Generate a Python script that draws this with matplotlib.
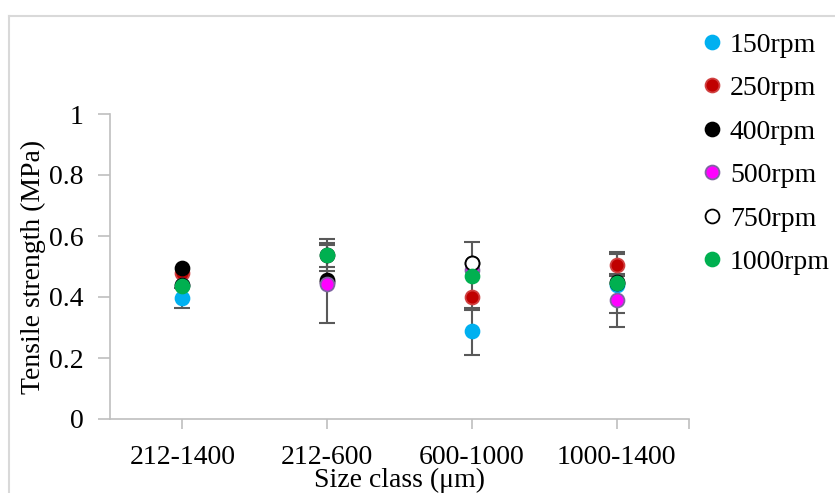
import numpy as np
import matplotlib
matplotlib.use("Agg")
import matplotlib.pyplot as plt
from matplotlib.lines import Line2D

# categories and series
size_classes = ["212-1400", "212-600", "600-1000", "1000-1400"]
speeds = ["150rpm", "250rpm", "400rpm", "500rpm", "750rpm", "1000rpm"]

ts_150 = [0.397, 0.450, 0.287, 0.440]
ts_250 = [0.480, 0.450, 0.400, 0.505]
ts_400 = [0.495, 0.456, 0.510, 0.445]
ts_500 = [0.440, 0.443, 0.490, 0.390]
ts_750 = [0.440, 0.537, 0.511, 0.450]
ts_1000 = [0.436, 0.538, 0.469, 0.446]

# error bars (0 = none shown)
err_150 = [0.033, 0.0, 0.077, 0.0]
err_250 = [0.0, 0.0, 0.0, 0.036]
err_400 = [0.0, 0.0, 0.0, 0.0]
err_500 = [0.0, 0.128, 0.0, 0.087]
err_750 = [0.0, 0.040, 0.0, 0.0]
err_1000 = [0.0, 0.052, 0.110, 0.100]

plt.rcParams['font.family'] = ['Liberation Serif', 'DejaVu Serif']

fig = plt.figure(figsize=(8.35, 4.93), dpi=100)
ax = fig.add_axes([110 / 835, 74 / 493, 579 / 835, 305 / 493])

x = np.arange(1, len(size_classes) + 1)
all_vals = [ts_150, ts_250, ts_400, ts_500, ts_750, ts_1000]
all_errs = [err_150, err_250, err_400, err_500, err_750, err_1000]
faces = ['#00B0F0', '#C00000', '#000000', '#FF00FF', '#FFFFFF', '#00B050']
edges = ['#00B0F0', '#D04040', '#000000', '#8064A2', '#000000', '#00B050']

# error bars first (grey), markers on top
for vals, errs in zip(all_vals, all_errs):
    vals = np.array(vals)
    errs = np.array(errs)
    m = errs > 0
    if m.any():
        ax.errorbar(x[m], vals[m], yerr=errs[m], fmt='none', ecolor='#595959',
                    elinewidth=1.5, capsize=6, capthick=1.5, zorder=2)

for i, (vals, name) in enumerate(zip(all_vals, speeds)):
    ax.plot(x, vals, linestyle='none', marker='o', markersize=10,
            markerfacecolor=faces[i], markeredgecolor=edges[i],
            markeredgewidth=1.3, label=name, zorder=3 + i)

ax.set_xlim(0.5, 4.5)
ax.set_ylim(0, 1)
ax.set_yticks([0, 0.2, 0.4, 0.6, 0.8, 1.0])
ax.set_yticklabels(["0", "0.2", "0.4", "0.6", "0.8", "1"])
ax.set_xticks(list(x) + [4.5])
ax.set_xticklabels(size_classes + [""])

for s in ['top', 'right']:
    ax.spines[s].set_visible(False)
for s in ['left', 'bottom']:
    ax.spines[s].set_color('#BFBFBF')
    ax.spines[s].set_linewidth(1.2)

ax.tick_params(axis='y', direction='out', length=9, width=1.2, color='#BFBFBF',
               labelsize=20, pad=10)
ax.tick_params(axis='x', direction='out', length=7, width=1.2, color='#BFBFBF',
               labelsize=20, pad=12)

ax.set_xlabel("Size class (μm)", fontsize=20, labelpad=-1.5)
ax.set_ylabel("Tensile strength (MPa)", fontsize=20)
ax.yaxis.set_label_coords(-0.11, 0.5)

leg = ax.legend(loc='upper left', bbox_to_anchor=(1.006, 1.305), frameon=False,
                fontsize=20, handlelength=0.6, handletextpad=0.35,
                labelspacing=0.65, borderaxespad=0)

# light grey chart-area frame
fig.add_artist(Line2D([9 / 835, 9 / 835], [0, 1 - 16 / 493], transform=fig.transFigure,
                      color='#D9D9D9', linewidth=1.5))
fig.add_artist(Line2D([9 / 835, 1], [1 - 16 / 493, 1 - 16 / 493], transform=fig.transFigure,
                      color='#D9D9D9', linewidth=1.5))

fig.savefig("out.png", dpi=100)
